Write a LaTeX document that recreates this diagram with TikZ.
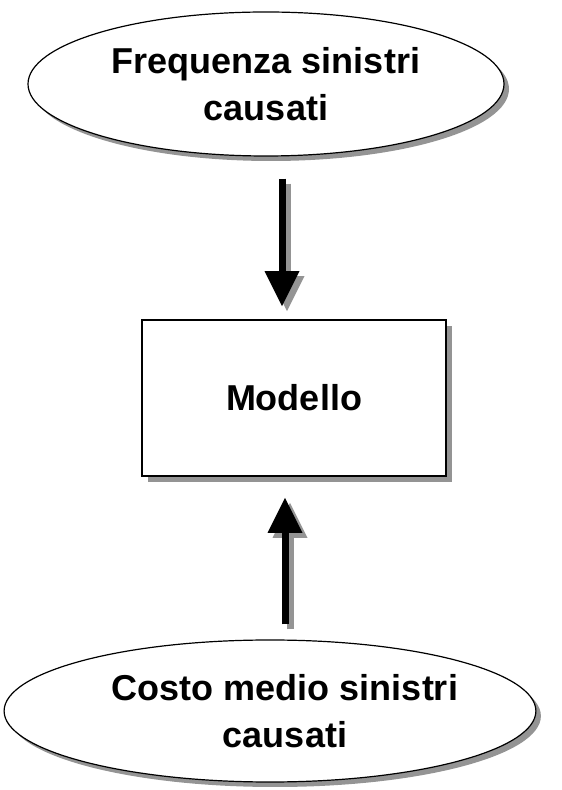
\documentclass[tikz,border=0pt]{standalone}
\usepackage{fontspec}
\setmainfont{Liberation Sans}
\usetikzlibrary{shapes.geometric,shadows,arrows.meta}

\tikzset{
  shade box/.style={drop shadow={shadow xshift=5pt, shadow yshift=-5pt, fill=black!42, opacity=1}},
  oval/.style={ellipse, draw, fill=white, line width=1.2pt, inner sep=0pt, align=center, shade box},
  modbox/.style={rectangle, draw, fill=white, line width=1.6pt, inner sep=0pt, drop shadow={shadow xshift=6pt, shadow yshift=-6pt, fill=black!42, opacity=1}},
  bigarrow/.style={line width=7pt, -{Triangle[length=35pt, width=35pt, line width=0pt]}},
}

\begin{document}
\begin{tikzpicture}[x=1pt, y=1pt, font=\fontsize{36}{47}\selectfont\bfseries]
  \useasboundingbox (0, 0) rectangle (562, 790);

  \node[oval, minimum width=476pt, minimum height=144pt] (freq) at (266, 706) {Frequenza sinistri\\causati};
  \node[modbox, minimum width=304pt, minimum height=156pt] (mod) at (294, 392) {Modello};
  \node[oval, minimum width=514pt, minimum height=142pt] (costo) at (270, 79) {\hspace*{30pt}Costo medio sinistri\\\hspace*{30pt}causati};

  % frecce con ombra
  \draw[bigarrow, black!42, shorten <=22pt, shorten >=13pt, transform canvas={shift={(5pt,-5pt)}}] (282,0 |- freq.south) -- (282,0 |- mod.north);
  \draw[bigarrow, shorten <=22pt, shorten >=13pt] (282,0 |- freq.south) -- (282,0 |- mod.north);
  \draw[bigarrow, black!42, shorten <=15pt, shorten >=21pt, transform canvas={shift={(5pt,-5pt)}}] (285,0 |- costo.north) -- (285,0 |- mod.south);
  \draw[bigarrow, shorten <=15pt, shorten >=21pt] (285,0 |- costo.north) -- (285,0 |- mod.south);
\end{tikzpicture}
\end{document}
